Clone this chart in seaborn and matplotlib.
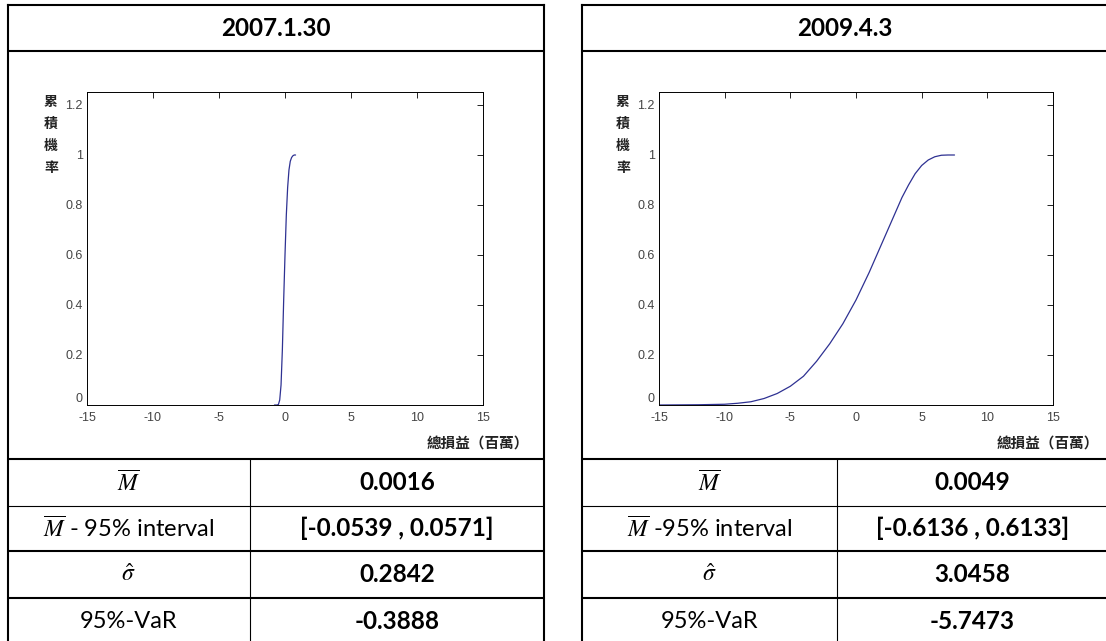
import matplotlib
matplotlib.use("Agg")
import matplotlib.pyplot as plt
import pandas as pd
import seaborn as sns

# ---------------- data ----------------
dates = ["2007.1.30", "2009.4.3"]

left_x = [-0.8, -0.6, -0.5, -0.4, -0.3, -0.2, -0.1, 0.0, 0.1, 0.2, 0.3, 0.4, 0.5, 0.6, 0.7, 0.8]
left_cdf = [0.0, 0.0, 0.002, 0.02, 0.08, 0.22, 0.42, 0.60, 0.76, 0.87, 0.94, 0.975, 0.99, 0.997, 1.0, 1.0]

right_x = [-15, -12, -10, -9, -8, -7, -6, -5, -4, -3, -2, -1, 0, 1, 2, 3, 3.5, 4, 4.5, 5,
           5.5, 6, 6.5, 7, 7.5]
right_cdf = [0.0, 0.001, 0.003, 0.007, 0.013, 0.026, 0.046, 0.075, 0.115, 0.175, 0.245, 0.325, 0.42,
             0.53, 0.65, 0.77, 0.83, 0.88, 0.925, 0.958, 0.98, 0.993, 0.999, 1.0, 1.0]

row_labels_left = [r"$\overline{M}$", r"$\overline{M}$ - 95% interval", r"$\hat{\sigma}$", "95%-VaR"]
row_labels_right = [r"$\overline{M}$", r"$\overline{M}$ -95% interval", r"$\hat{\sigma}$", "95%-VaR"]
values_left = ["0.0016", "[-0.0539 , 0.0571]", "0.2842", "-0.3888"]
values_right = ["0.0049", "[-0.6136 , 0.6133]", "3.0458", "-5.7473"]

x_ticks = [-15, -10, -5, 0, 5, 10, 15]
x_tick_labels = ["-15", "-10", "-5", "0", "5", "10", "15"]
y_ticks = [0, 0.2, 0.4, 0.6, 0.8, 1.0, 1.2]
y_tick_labels = ["0", "0.2", "0.4", "0.6", "0.8", "1", "1.2"]
ylabel_chars = ["累", "積", "機", "率"]
xlabel_text = "總損益（百萬）"

# ---------------- style ----------------
sns.set_style("white")
plt.rcParams["font.family"] = ["Lato", "Noto Sans CJK TC", "DejaVu Sans"]
plt.rcParams["mathtext.fontset"] = "stix"

W, H = 1106, 641
fig = plt.figure(figsize=(W / 100, H / 100), dpi=100)
fig.patch.set_facecolor("white")

# overlay in pixel coordinates for the table grid
ov = fig.add_axes([0, 0, 1, 1], zorder=0)
ov.set_xlim(0, W)
ov.set_ylim(H, 0)
ov.axis("off")

thick = 1.5
thin = 0.8

tables = [
    dict(x0=7.5, x1=544, xs=250, date=dates[0], labels=row_labels_left, values=values_left,
         ax_x0=87, ax_x1=483, x=left_x, y=left_cdf),
    dict(x0=582, x1=1108, xs=837, date=dates[1], labels=row_labels_right, values=values_right,
         ax_x0=659, ax_x1=1053, x=right_x, y=right_cdf),
]

y_top, y_head, y_plot = 5, 51, 459
row_lines = [459, 506, 551, 598, 645]
row_lw = [thick, thin, thick, thick, thick]

ax_top, ax_bot = 92.5, 405

for t in tables:
    x0, x1, xs = t["x0"], t["x1"], t["xs"]
    # outer border
    ov.plot([x0, x1], [y_top, y_top], color="black", lw=thick, solid_capstyle="projecting")
    ov.plot([x0, x0], [y_top, 645], color="black", lw=thick, solid_capstyle="projecting")
    ov.plot([x1, x1], [y_top, 645], color="black", lw=thick, solid_capstyle="projecting")
    ov.plot([x0, x1], [y_head, y_head], color="black", lw=thick)
    for yl, lw in zip(row_lines, row_lw):
        ov.plot([x0, x1], [yl, yl], color="black", lw=lw)
    ov.plot([xs, xs], [y_plot, 645], color="black", lw=thin)

    # header
    ov.text((x0 + x1) / 2, (y_top + y_head) / 2 + 1, t["date"], ha="center", va="center",
            fontsize=17.5, fontweight="bold", color="black")

    # rows
    for i in range(4):
        yc = (row_lines[i] + row_lines[i + 1]) / 2
        ov.text((x0 + xs) / 2, yc, t["labels"][i], ha="center", va="center",
                fontsize=17, color="black")
        ov.text((xs + x1) / 2, yc, t["values"][i], ha="center", va="center",
                fontsize=17.5, fontweight="bold", color="black")

    # plot
    ax = fig.add_axes([t["ax_x0"] / W, 1 - ax_bot / H, (t["ax_x1"] - t["ax_x0"]) / W,
                       (ax_bot - ax_top) / H], zorder=2)
    df = pd.DataFrame({"x": t["x"], "cdf": t["y"]})
    sns.lineplot(data=df, x="x", y="cdf", ax=ax, color="#2e3192", lw=0.9, sort=False)
    ax.set_xlim(-15, 15)
    ax.set_ylim(0, 1.25)
    ax.set_xticks(x_ticks)
    ax.set_xticklabels(x_tick_labels)
    ax.set_yticks(y_ticks)
    ax.set_yticklabels(y_tick_labels)
    ax.set_xlabel("")
    ax.set_ylabel("")
    for s in ax.spines.values():
        s.set_visible(True)
        s.set_color("black")
        s.set_linewidth(0.7)
    ax.tick_params(direction="in", top=True, right=True, length=4, width=0.6,
                   color="black", labelsize=9, labelcolor="#444444")
    ax.tick_params(axis="x", pad=5)
    ax.tick_params(axis="y", pad=3)
    for lab in ax.get_xticklabels() + ax.get_yticklabels():
        lab.set_family(["Liberation Sans", "DejaVu Sans"])
    ax.get_yticklabels()[0].set_verticalalignment("bottom")

    # stacked y label
    ylx = t["ax_x0"] - 36
    for k, ch in enumerate(ylabel_chars):
        ov.text(ylx, 102 + 22 * k, ch, ha="center", va="center", fontsize=10,
                fontweight="bold", family=["Noto Sans CJK TC"], color="#222222")
    # x label
    ov.text(t["ax_x1"] - 5, 443, xlabel_text, ha="center", va="center", fontsize=10.5,
            fontweight="bold", family=["Noto Sans CJK TC"], color="#222222")

fig.savefig("out.png", dpi=100, facecolor="white")
